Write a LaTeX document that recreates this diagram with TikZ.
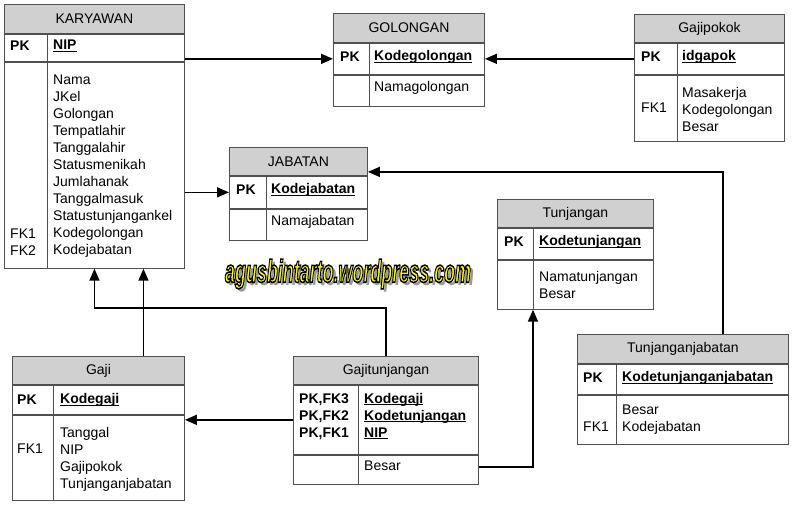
\documentclass[tikz,border=0pt]{standalone}
\usepackage{fontspec}
\setmainfont{Liberation Sans}
\usetikzlibrary{arrows.meta,calc}
\definecolor{hdrc}{HTML}{D0D0D0}
\definecolor{bordc}{HTML}{505050}
\definecolor{wmyel}{HTML}{FFFF00}
\definecolor{wmshadow}{HTML}{9A9A9A}
\newcommand\fs{\fontsize{14}{17}\selectfont}
\newcommand\fl{\rule{0pt}{12pt}}
\newcommand\ul[1]{\setbox0\hbox{\textbf{#1}}\rlap{\rule[-2.2pt]{\wd0}{1.2pt}}\box0}
\newcommand\wmbody{\scalebox{0.56}[1]{\fontsize{32}{32}\selectfont\bfseries\itshape agusbintarto.wordpress.com}}
\newcommand\wmstroked{\special{pdf:literal direct 0 0 0 RG 1.6 w 2 Tr}\wmbody\special{pdf:literal direct 0 Tr}}
% #1 name, #2 x, #3 y, #4 width, #5 header h, #6 pk h, #7 body h, #8 divider offset, #9 title
\newcommand\erent[9]{%
  \node[hdr, minimum width=#4, minimum height=#5, anchor=north west] (#1-h) at (#2,#3) {#9};
  \node[rowbox, minimum width=#4, minimum height=#6, anchor=north] (#1-p) at (#1-h.south) {};
  \node[rowbox, minimum width=#4, minimum height=#7, anchor=north] (#1-b) at (#1-p.south) {};
  \coordinate (#1-dt) at ([xshift=#8]#1-p.north west);
  \coordinate (#1-db) at ([xshift=#8]#1-b.south west);
  \draw[bline] (#1-dt) -- (#1-db);
}
\tikzset{
  hdr/.style={draw=bordc, fill=hdrc, line width=0.9pt, inner sep=0pt, font=\fs},
  rowbox/.style={draw=bordc, fill=white, line width=0.9pt, inner sep=0pt},
  bline/.style={draw=bordc, line width=0.9pt},
  txt/.style={inner sep=0pt, font=\fs, align=left, anchor=west},
  mtxt/.style={inner sep=0pt, font=\fs, align=left, anchor=north west},
  conn/.style={line width=1.6pt, -{Triangle[length=12pt,width=10pt]}},
}
\begin{document}
\begin{tikzpicture}[x=1pt,y=-1pt]
\useasboundingbox (0,0) rectangle (798,511);

% KARYAWAN
\erent{kar}{4}{4}{180}{29}{27}{206}{43}{KARYAWAN}
\node[txt] (kar-pk) at (10,46) {\textbf{PK}};
\node[txt] (kar-k) at (53,46) {\ul{NIP}};
\node[mtxt] (kar-at) at (53,72) {\fl Nama\\JKel\\Golongan\\Tempatlahir\\Tanggalahir\\Statusmenikah\\Jumlahanak\\Tanggalmasuk\\Statustunjangankel\\Kodegolongan\\Kodejabatan};
\node[mtxt] (kar-fk) at (10,226) {\fl FK1\\FK2};

% GOLONGAN
\erent{gol}{333}{13}{151}{29}{31}{31}{36}{GOLONGAN}
\node[txt] (gol-pk) at (340,57) {\textbf{PK}};
\node[txt] (gol-k) at (374,57) {\ul{Kodegolongan}};
\node[txt] (gol-at) at (374,88) {Namagolongan};

% JABATAN
\erent{jab}{229}{147}{138}{28}{32}{31}{37}{JABATAN}
\node[txt] (jab-pk) at (236,190) {\textbf{PK}};
\node[txt] (jab-k) at (271,190) {\ul{Kodejabatan}};
\node[txt] (jab-at) at (271,222) {Namajabatan};

% Gajipokok
\erent{gpk}{634}{14}{150}{28}{31}{66}{43}{Gajipokok}
\node[txt] (gpk-pk) at (641,57) {\textbf{PK}};
\node[txt] (gpk-k) at (682,57) {\ul{idgapok}};
\node[mtxt] (gpk-at) at (682,85) {\fl Masakerja\\Kodegolongan\\Besar};
\node[txt] (gpk-fk) at (641,108) {FK1};

% Gaji
\erent{gaji}{12}{356}{172}{28}{29}{85}{41}{Gaji}
\node[txt] (gaji-pk) at (17,400) {\textbf{PK}};
\node[txt] (gaji-k) at (60,400) {\ul{Kodegaji}};
\node[mtxt] (gaji-at) at (60,425) {\fl Tanggal\\NIP\\Gajipokok\\Tunjanganjabatan};
\node[txt] (gaji-fk) at (17,449) {FK1};

% Gajitunjangan
\erent{gt}{293}{356}{185}{28}{69}{29}{65}{Gajitunjangan}
\node[mtxt] (gt-pk) at (299,391) {\fl\textbf{PK,FK3}\\\textbf{PK,FK2}\\\textbf{PK,FK1}};
\node[mtxt] (gt-k) at (364,391) {\fl\ul{Kodegaji}\\\ul{Kodetunjangan}\\\ul{NIP}};
\node[txt] (gt-at) at (364,466) {Besar};

% Tunjangan
\erent{tj}{497}{199}{156}{28}{31}{49}{36}{Tunjangan}
\node[txt] (tj-pk) at (504,242) {\textbf{PK}};
\node[txt] (tj-k) at (539,242) {\ul{Kodetunjangan}};
\node[mtxt] (tj-at) at (539,269) {\fl Namatunjangan\\Besar};

% Tunjanganjabatan
\erent{tjj}{577}{334}{211}{29}{30}{49}{39}{Tunjanganjabatan}
\node[txt] (tjj-pk) at (583,378) {\textbf{PK}};
\node[txt] (tjj-k) at (622,378) {\ul{Kodetunjanganjabatan}};
\node[mtxt] (tjj-at) at (622,402) {\fl Besar\\Kodejabatan};
\node[txt] (tjj-fk) at (583,427) {FK1};

% connectors
\draw[conn] (kar-p.east |- gol-p.west) -- (gol-p.west);
\draw[conn] (gpk-p.west) -- (gol-p.east);
\draw[conn] (kar-b.east |- jab-p.west) -- (jab-p.west);
\coordinate (c4) at ([xshift=40pt]tjj-h.north);
\draw[conn] (c4) |- ([yshift=4pt]jab-h.south east);
\coordinate (c5) at ([xshift=45pt]gaji-h.north);
\draw[conn] (c5) -- (c5 |- kar-b.south);
\coordinate (c6) at ($(gt-h.north)+(0,-48)$);
\draw[conn] (gt-h.north) -- (c6) -| (kar-b.south);
\draw[conn] (gt-p.west) -- (gt-p.west -| gaji-b.east);
\coordinate (c8) at ([yshift=3pt]gt-b.east);
\draw[conn] (c8) -| (tj-db);

% watermark
\coordinate (wmc) at (348,274);
\node[inner sep=0pt, text=wmshadow] (wm-s) at ($(wmc)+(3,3)$) {\wmbody};
\node[inner sep=0pt, text=wmyel] (wm) at (wmc) {\wmstroked};
\end{tikzpicture}
\end{document}
